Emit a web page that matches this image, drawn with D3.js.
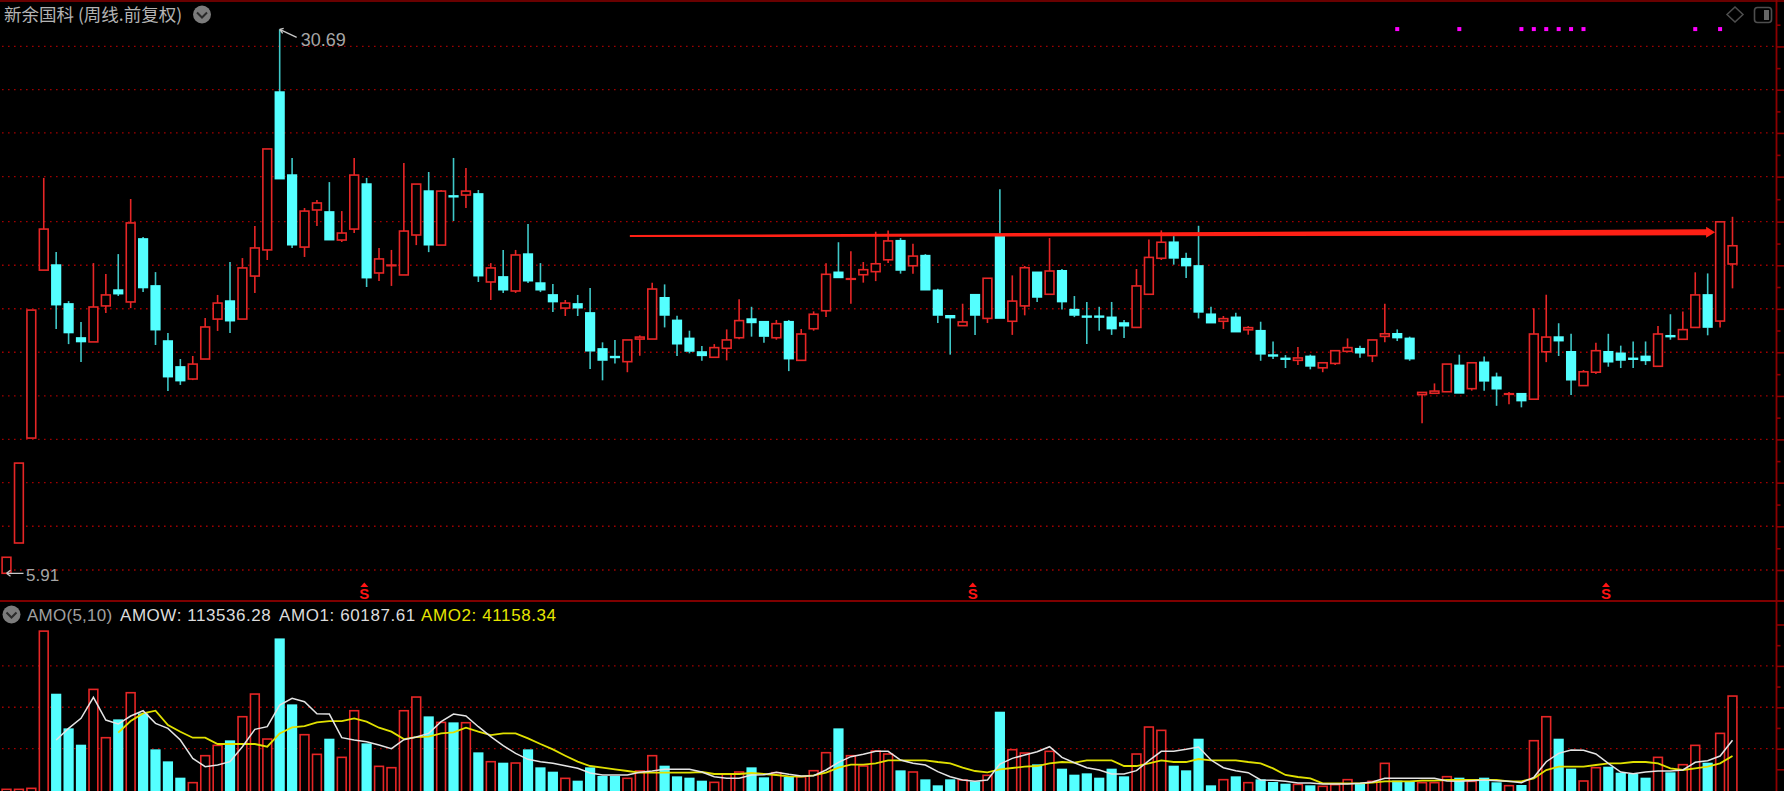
<!DOCTYPE html>
<html>
<head>
<meta charset="utf-8">
<style>
  html, body { margin: 0; background: #000; overflow: hidden; }
  text { font-family: "Liberation Sans", Arial, sans-serif; }
</style>
<script src="https://cdn.jsdelivr.net/npm/d3@7"></script>
</head>
<body>
<script>
// Weekly candles
var opens = [5.91,7.29,12.07,19.72,19.95,18.18,16.63,16.45,18.09,18.81,
  18.27,21.14,19.00,16.49,15.31,14.76,15.67,17.49,18.31,17.49,
  19.45,20.64,27.83,24.05,20.77,22.46,22.37,21.09,21.59,23.64,
  19.59,19.94,19.50,21.32,23.32,20.86,23.10,23.14,23.19,19.18,
  19.41,18.77,20.45,19.13,18.59,17.99,18.18,17.77,16.13,15.78,
  15.55,16.58,16.58,18.46,17.43,16.61,15.99,15.75,16.16,16.64,
  17.49,17.37,16.64,17.37,15.61,17.05,17.87,19.62,19.32,19.51,
  19.65,20.19,21.06,19.92,20.38,18.80,17.64,17.19,18.60,17.52,
  21.26,17.39,18.09,19.62,18.62,19.69,17.92,17.62,17.62,17.57,
  17.31,17.11,18.62,20.26,20.99,20.24,19.91,17.71,17.39,17.57,
  17.00,16.96,15.85,15.70,15.61,15.79,15.27,15.47,16.02,16.14,
  15.82,16.70,16.82,16.61,14.05,14.11,14.18,15.38,14.32,15.52,
  14.84,14.08,14.09,13.84,16.00,16.67,16.00,14.46,15.07,16.00,
  15.93,15.70,15.79,15.34,16.73,16.57,17.11,18.59,17.40,20.00];
var highs = [6.64,10.93,17.90,23.92,20.54,18.31,17.36,20.04,19.54,20.45,
  22.96,21.23,19.63,16.86,15.67,15.81,17.54,18.59,20.09,20.27,
  21.73,25.24,30.69,24.83,22.55,22.91,23.73,22.41,24.83,23.92,
  20.73,20.64,24.60,23.64,24.19,23.37,24.83,24.37,23.37,20.04,
  20.64,20.64,21.82,20.04,19.09,18.36,18.59,18.91,16.43,16.54,
  16.54,16.75,19.15,19.07,17.64,16.96,16.26,16.35,17.02,18.39,
  18.05,17.37,17.45,17.45,17.04,17.84,20.03,20.99,20.58,20.09,
  21.47,21.53,21.18,20.92,20.45,18.87,17.64,18.19,18.60,19.35,
  23.40,19.48,19.91,19.62,21.18,19.77,18.54,18.27,18.05,18.27,
  17.45,19.77,21.12,21.53,21.27,20.51,21.74,18.05,17.63,17.78,
  17.17,17.37,16.47,15.85,16.22,15.87,15.50,16.05,16.61,16.28,
  16.54,18.19,17.02,16.69,14.15,14.56,15.44,15.87,15.50,15.79,
  15.05,14.17,14.09,17.98,18.60,17.30,16.82,15.17,16.41,16.82,
  16.28,16.47,16.47,17.17,17.71,17.84,19.62,19.57,21.92,22.15];
var lows = [5.91,7.29,12.07,19.72,17.04,16.35,15.53,16.45,17.77,18.54,
  17.99,18.72,16.31,14.21,14.49,14.71,15.67,16.95,16.86,17.49,
  18.68,20.18,23.87,20.73,20.32,21.73,21.09,21.00,21.41,18.95,
  19.22,19.00,19.50,20.86,20.54,20.86,21.96,22.55,19.18,18.36,
  18.68,18.68,19.13,18.72,17.81,17.63,17.63,15.22,14.70,15.47,
  15.07,15.82,16.58,17.11,15.81,15.93,15.59,15.75,15.61,16.57,
  16.69,16.41,16.55,15.12,15.61,16.96,17.58,19.37,18.19,19.15,
  19.22,20.04,19.56,19.56,18.81,17.31,15.87,17.19,16.77,17.31,
  17.52,16.77,17.66,18.27,18.62,17.93,17.58,16.35,16.96,16.77,
  16.63,17.11,18.62,20.18,19.97,19.36,17.52,17.31,17.04,16.90,
  16.78,15.59,15.67,15.26,15.40,15.20,15.07,15.40,15.98,15.73,
  15.53,16.43,16.49,15.59,12.74,14.11,14.18,14.11,14.23,14.23,
  13.54,13.61,13.47,13.84,15.53,15.81,14.03,14.46,14.99,15.32,
  15.26,15.26,15.40,15.34,16.55,16.57,17.11,16.75,17.11,18.89];
var closes = [6.64,10.93,17.90,21.59,18.13,16.86,16.45,18.04,18.59,18.63,
  21.87,18.91,16.99,14.85,14.67,15.44,17.13,18.22,17.40,19.82,
  20.73,25.24,23.87,20.86,22.41,22.78,21.09,21.41,24.05,19.36,
  20.23,19.95,21.50,23.64,20.86,23.32,23.09,23.32,19.45,19.82,
  18.81,20.41,19.22,18.81,18.27,18.22,17.99,16.03,15.61,15.77,
  16.54,16.67,18.86,17.66,16.35,16.02,15.82,16.19,16.54,17.42,
  17.32,16.70,17.28,15.67,16.81,17.71,19.53,19.37,19.33,19.74,
  20.01,21.05,19.71,20.36,18.81,17.66,17.54,17.36,17.66,19.35,
  17.52,18.31,19.83,18.48,19.68,18.27,17.66,17.61,17.61,17.04,
  17.17,19.00,20.30,20.99,20.26,19.91,17.80,17.31,17.51,16.90,
  17.10,15.89,15.84,15.69,15.72,15.34,15.50,16.05,16.19,15.94,
  16.54,16.82,16.63,15.67,14.15,14.21,15.44,14.11,15.50,14.66,
  14.30,14.09,13.76,16.81,16.67,16.49,14.71,15.09,16.05,15.53,
  15.61,15.69,15.59,16.81,16.72,17.01,18.59,17.11,21.92,20.83];

// Weekly amount (AMOW)
var amow = [800,800,2000,192000,116350,74480,54750,121590,63200,85350,
  117560,92600,49120,34620,14900,8860,41470,53950,59990,88570,
  115950,61600,183180,103470,66830,43080,62000,39450,95820,56360,
  28580,26970,95820,112330,88970,81730,81730,81330,45490,34220,
  33010,32610,49120,27380,22140,14090,11270,27380,16910,16910,
  14090,22950,41470,29390,16510,14900,11270,9260,18920,21740,
  27380,15300,20940,15700,16100,23350,45090,74480,41470,28990,
  47100,43480,23750,21740,12880,5640,12880,12080,10470,17710,
  94610,48710,44690,31000,46700,25770,18520,20130,14900,25770,
  16510,43480,76090,72070,29390,23750,62000,5640,12480,16510,
  8860,12880,9660,7650,6840,5640,4430,6440,12480,7250,
  10470,32210,11270,10470,8860,8860,16100,14900,10470,14900,
  9260,5230,6040,59580,88570,62000,25770,10870,26970,28180,
  20940,19320,14900,39450,21340,30600,53950,33010,68440,113536.28];

// AMO1 line starts at week 4, AMO2 at week 9
var amo1Start = 4;
var amo1 = [60390,74480,86560,111920,84550,79710,89380,95820,80520,74480,
  60390,38250,28180,30200,34220,52340,73270,76490,102660,110720,
  106690,92200,91790,63210,60390,58380,54350,49920,60790,64010,
  68440,82530,91790,89380,76490,64420,53550,44290,37040,34220,
  32210,29390,26170,20530,18120,18120,18120,21340,22950,24960,
  24960,24960,21740,16100,14090,14090,18120,18520,21340,18920,
  16910,17310,24160,33420,40260,43080,46700,46700,36230,32210,
  30200,22140,16100,12080,10470,12080,31400,38250,42270,46300,
  52340,39450,33010,26970,24160,19320,19320,23350,35430,46700,
  46700,49120,51940,36230,26970,23350,20940,12080,11680,10470,
  8450,8450,7250,7250,7250,8050,9660,14090,14090,14090,
  14090,14090,10870,10470,11270,12080,11270,10470,8860,15300,
  34220,44290,48310,47910,43480,32210,21740,19730,21740,22950,
  22950,24160,33420,35430,41070,60187.61];
var amo2Start = 9;
var amo2 = [69250,83340,92600,95820,78510,70460,63210,63210,55560,55560,
  55560,55560,52340,68440,75690,77300,81730,83340,83340,86560,
  82530,75290,70460,61600,64010,64420,68440,69650,75290,70460,
  66430,68440,68440,62400,55560,49120,41470,34220,28990,26970,
  24960,22950,20940,20940,20940,20940,20940,21740,19320,19320,
  19320,20530,19320,18120,16510,16100,17710,20940,26970,30600,
  30600,32210,35830,35830,35830,35830,33820,32210,26970,22950,
  21340,24960,26570,28180,28990,32210,33820,33010,35830,35830,
  35830,28990,28990,32210,35830,33820,33820,37440,35830,35830,
  35830,33820,32210,26170,18120,15700,14090,8050,8050,8050,
  8050,8860,10470,10470,10470,11270,11270,12080,12080,12080,
  12080,12080,10470,10470,14090,24160,28180,28180,28180,30200,
  32210,32210,33820,33820,32210,26170,24160,26170,28180,32210,
  41158.34];

// Gridlines and right hand ticks
var priceGrid = [29.91,27.94,25.97,23.98,21.93,19.94,17.96,15.98,13.99,12.01,10.04,8.05,6.06];
var priceMinor = [30.9,28.92,26.95,24.97,22.95,20.93,18.95,16.97,14.98,13.0,11.02,9.04,7.05];
var amoGrid = [50000,100000,150000];
var amoLong = [25000,50000,100000,150000,200000];
var amoMinor = [75000,125000,175000];

// Signals and annotations
var sWeeks = [29,78,129];
var dotWeeks = [112,117,122,123,124,125,126,127,136,138];
var dotPrice = 30.7;
var trendFrom = {week: 50.2, price: 21.27};
var trendTo = {week: 137.6, price: 21.44};

var title = "新余国科 (周线.前复权)";
var amoName = "AMO(5,10)";
var amoLegend = ["AMOW: 113536.28", "AMO1: 60187.61", "AMO2: 41158.34"];

var red = "#e62626", cyan = "#54ffff", cyanWick = "#3fc8c8", gridRed = "#a00000", lineRed = "#8c0000";
var width = 1784, height = 791;
var axisX = 1776.5;

var svg = d3.select("body").append("svg")
    .attr("width", width)
    .attr("height", height)
    .style("display", "block")
    .style("background", "#000");

// Scales
var x = d3.scaleLinear().domain([0, 139]).range([6.5, 1732.5]);
var y = d3.scaleLinear().domain([5.91, 30.69]).range([573.3, 29.3]);
var yAmo = d3.scaleLinear().domain([0, 200000]).range([790, 624.5]);

// Dotted gridlines
function dotted(values, scale) {
  svg.append("g").selectAll("line").data(values).enter().append("line")
      .attr("x1", 2).attr("x2", axisX - 1)
      .attr("y1", function(d) { return scale(d); })
      .attr("y2", function(d) { return scale(d); })
      .attr("stroke", gridRed)
      .attr("stroke-width", 1.4)
      .attr("stroke-dasharray", "1.6 4.4");
}
dotted(priceGrid, y);
dotted(amoGrid, yAmo);

// Frame
svg.append("line").attr("x1", 0).attr("x2", width).attr("y1", 1).attr("y2", 1)
    .attr("stroke", lineRed).attr("stroke-width", 1.6);
svg.append("line").attr("x1", 0).attr("x2", width).attr("y1", 601).attr("y2", 601)
    .attr("stroke", "#a80000").attr("stroke-width", 1.6);
svg.append("line").attr("x1", axisX).attr("x2", axisX).attr("y1", 0).attr("y2", height)
    .attr("stroke", lineRed).attr("stroke-width", 1.8);

// Right axes, ticks only (labels fall outside the window)
function ticks(scale, values, size) {
  var g = svg.append("g")
      .attr("transform", "translate(" + axisX + ",0)")
      .call(d3.axisRight(scale).tickValues(values).tickSize(size).tickFormat(""));
  g.select(".domain").remove();
  g.selectAll("line").attr("stroke", lineRed).attr("stroke-width", 1.6);
}
ticks(y, priceGrid, 8);
ticks(y, priceMinor, 4);
ticks(yAmo, amoLong, 8);
ticks(yAmo, amoMinor, 4);

// Candles
var weeks = d3.range(opens.length);
function isUp(i) { return closes[i] >= opens[i]; }

var candle = svg.append("g").selectAll("g").data(weeks).enter().append("g");

// upper wick
candle.append("line")
    .attr("x1", function(i) { return x(i); })
    .attr("x2", function(i) { return x(i); })
    .attr("y1", function(i) { return y(highs[i]); })
    .attr("y2", function(i) { return y(Math.max(opens[i], closes[i])); })
    .attr("stroke", function(i) { return isUp(i) ? red : cyanWick; })
    .attr("stroke-width", 1.6);
// lower wick
candle.append("line")
    .attr("x1", function(i) { return x(i); })
    .attr("x2", function(i) { return x(i); })
    .attr("y1", function(i) { return y(Math.min(opens[i], closes[i])); })
    .attr("y2", function(i) { return y(lows[i]); })
    .attr("stroke", function(i) { return isUp(i) ? red : cyanWick; })
    .attr("stroke-width", 1.6);
// body: hollow red, solid cyan
candle.append("rect")
    .attr("x", function(i) { return x(i) - (isUp(i) ? 4.4 : 5.1); })
    .attr("width", function(i) { return isUp(i) ? 8.8 : 10.2; })
    .attr("y", function(i) { return y(Math.max(opens[i], closes[i])) - (isUp(i) ? 0 : 0.8); })
    .attr("height", function(i) {
      var h = Math.abs(y(opens[i]) - y(closes[i]));
      return isUp(i) ? Math.max(h, 0.6) : Math.max(h + 1.2, 2.4);
    })
    .attr("fill", function(i) { return isUp(i) ? "#000" : cyan; })
    .attr("stroke", function(i) { return isUp(i) ? red : "none"; })
    .attr("stroke-width", 1.6);

// Trend line, widening towards the arrow head
var tx0 = x(trendFrom.week), ty0 = y(trendFrom.price);
var tx1 = x(trendTo.week), ty1 = y(trendTo.price);
svg.append("path")
    .attr("d", d3.line()([
      [tx0, ty0 - 1], [tx1 - 9, ty1 - 3], [tx1 - 9, ty1 - 5.5], [tx1, ty1],
      [tx1 - 9, ty1 + 5.5], [tx1 - 9, ty1 + 3], [tx0, ty0 + 1]
    ]) + "Z")
    .attr("fill", "#ff2015");

// Signal dots along the top
svg.append("g").selectAll("rect").data(dotWeeks).enter().append("rect")
    .attr("x", function(d) { return x(d) - 2; })
    .attr("y", y(dotPrice) - 2)
    .attr("width", 4)
    .attr("height", 4)
    .attr("fill", "#ff00ff");

// S marks above the lower panel
var sMark = svg.append("g").selectAll("g").data(sWeeks).enter().append("g")
    .attr("transform", function(d) { return "translate(" + (x(d) - 2.3) + ",0)"; });
sMark.append("text")
    .attr("y", 599)
    .attr("text-anchor", "middle")
    .attr("font-size", 15)
    .attr("font-weight", "bold")
    .attr("fill", "#ff1414")
    .text("S");
sMark.append("path")
    .attr("d", "M-4,587 L0,582.5 L4,587 Z")
    .attr("fill", "#ff1414");

// High / low labels
var grey = "#a6a6a6";
var hx = x(22), hy = y(30.69);
svg.append("path")
    .attr("d", "M" + hx + "," + hy + " L" + (hx + 17) + "," + (hy + 8) + " M" + hx + "," + hy + " l4,-1 M" + hx + "," + hy + " l3,4")
    .attr("fill", "none").attr("stroke", "#c8c8c8").attr("stroke-width", 1.3);
svg.append("text").attr("x", hx + 21).attr("y", 45.5)
    .attr("font-size", 18).attr("fill", grey).text("30.69");
var lx = x(0), ly = y(5.91);
svg.append("path")
    .attr("d", "M" + lx + "," + ly + " h17 M" + lx + "," + ly + " l4,-3 M" + lx + "," + ly + " l4,3")
    .attr("fill", "none").attr("stroke", "#c8c8c8").attr("stroke-width", 1.3);
svg.append("text").attr("x", 26).attr("y", 580.5)
    .attr("font-size", 17).attr("fill", grey).text("5.91");

// Amount bars
svg.append("g").selectAll("rect").data(weeks).enter().append("rect")
    .attr("x", function(i) { return x(i) - (isUp(i) ? 4.4 : 5.1); })
    .attr("width", function(i) { return isUp(i) ? 8.8 : 10.2; })
    .attr("y", function(i) { return yAmo(amow[i]); })
    .attr("height", function(i) { return yAmo(0) - yAmo(amow[i]) + 2; })
    .attr("fill", function(i) { return isUp(i) ? "#000" : cyan; })
    .attr("stroke", function(i) { return isUp(i) ? red : "none"; })
    .attr("stroke-width", 1.6);

// Moving averages
var amoLine = d3.line()
    .x(function(d) { return x(d.week); })
    .y(function(d) { return yAmo(d.value); });
function toPoints(values, start) {
  return values.map(function(v, k) { return {week: start + k, value: v}; });
}
svg.append("path")
    .attr("d", amoLine(toPoints(amo2, amo2Start)))
    .attr("fill", "none").attr("stroke", "#e0e000").attr("stroke-width", 1.8);
svg.append("path")
    .attr("d", amoLine(toPoints(amo1, amo1Start)))
    .attr("fill", "none").attr("stroke", "#e4e4e4").attr("stroke-width", 1.5);

// Titles
svg.append("text").attr("x", 4).attr("y", 21)
    .style("font-family", '"Noto Sans CJK SC"')
    .attr("font-size", 17.5).attr("fill", "#b4b4b4").text(title);

function chevron(cx, cy) {
  svg.append("circle").attr("cx", cx).attr("cy", cy).attr("r", 9).attr("fill", "#7c7c7c");
  svg.append("path")
      .attr("d", "M" + (cx - 5) + "," + (cy - 2) + " L" + cx + "," + (cy + 3) + " L" + (cx + 5) + "," + (cy - 2))
      .attr("fill", "none").attr("stroke", "#2a2a2a").attr("stroke-width", 2);
}
chevron(202, 14.5);
chevron(11.5, 614.5);

svg.append("text").attr("x", 27).attr("y", 620.5)
    .attr("font-size", 17).attr("letter-spacing", 0.25).attr("fill", "#a0a0a0").text(amoName);
svg.append("text").attr("x", 120).attr("y", 620.5)
    .attr("font-size", 17).attr("letter-spacing", 0.55).attr("fill", "#dcdcdc").text(amoLegend[0]);
svg.append("text").attr("x", 279).attr("y", 620.5)
    .attr("font-size", 17).attr("letter-spacing", 0.6).attr("fill", "#dcdcdc").text(amoLegend[1]);
svg.append("text").attr("x", 421).attr("y", 620.5)
    .attr("font-size", 17).attr("letter-spacing", 0.6).attr("fill", "#e6e600").text(amoLegend[2]);

// Small toolbar icons, top right
svg.append("path").attr("d", "M1735,7 L1743,14.5 L1735,22 L1727,14.5 Z")
    .attr("fill", "none").attr("stroke", "#4e4e4e").attr("stroke-width", 1.5);
svg.append("rect").attr("x", 1754.5).attr("y", 7.5).attr("width", 17).attr("height", 15).attr("rx", 3)
    .attr("fill", "none").attr("stroke", "#4e4e4e").attr("stroke-width", 1.6);
svg.append("rect").attr("x", 1764).attr("y", 10).attr("width", 5).attr("height", 10)
    .attr("fill", "#666");
</script>
</body>
</html>
